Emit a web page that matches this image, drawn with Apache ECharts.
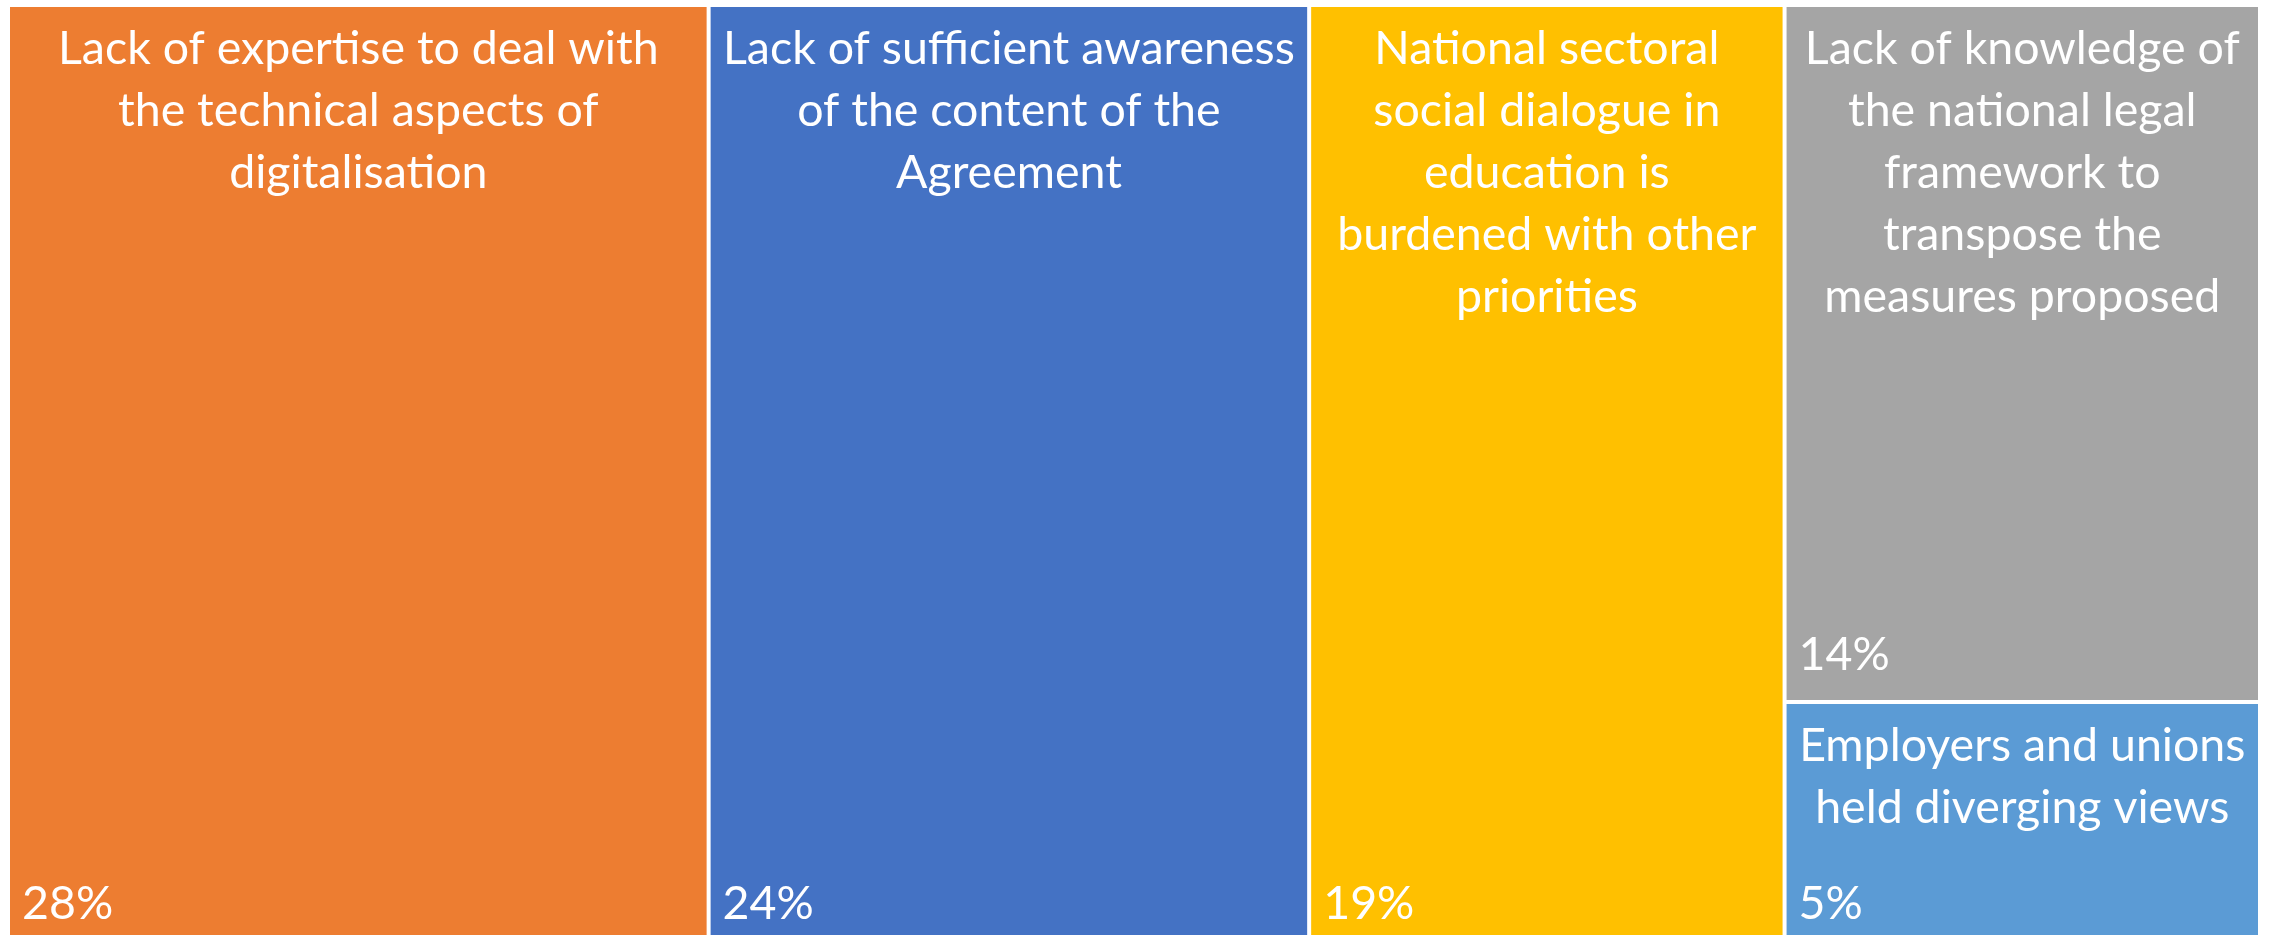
<!DOCTYPE html>
<html>
<head>
<meta charset="utf-8">
<script src="https://cdn.jsdelivr.net/npm/echarts@6/dist/echarts.min.js"></script>
<style>
html,body{margin:0;padding:0;background:#fff;}
#chart{width:2275px;height:935px;}
</style>
</head>
<body>
<div id="chart"></div>
<script>
var categories = [
  "Lack of expertise to deal with\nthe technical aspects of\ndigitalisation",
  "Lack of sufficient awareness\nof the content of the\nAgreement",
  "National sectoral\nsocial dialogue in\neducation is\nburdened with other\npriorities",
  "Lack of knowledge of\nthe national legal\nframework to\ntranspose the\nmeasures proposed",
  "Employers and unions\nheld diverging views"
];
var percents = [28, 24, 19, 14, 5];
var colors = ["#ED7D31", "#4472C4", "#FFC000", "#A5A5A5", "#5B9BD5"];

var FONT = "Lato";
var FS = 46.5;

var nameData = categories.map(function (c, i) {
  return { name: c, value: percents[i], itemStyle: { color: colors[i] } };
});
var pctData = categories.map(function (c, i) {
  return { name: c, value: percents[i], itemStyle: { color: 'rgba(0,0,0,0)' } };
});

var box = { left: 10, top: 7, width: 2248, height: 942 };
function base(data) {
  return Object.assign({
    type: 'treemap',
    data: data,
    roam: false,
    nodeClick: false,
    breadcrumb: { show: false },
    squareRatio: 1,
    sort: 'desc',
    upperLabel: { show: false },
    itemStyle: { gapWidth: 4, borderWidth: 0, borderColor: '#fff' },
    emphasis: { disabled: true },
    animation: false
  }, box);
}

var s1 = base(nameData);
s1.label = {
  show: true,
  position: 'insideTop',
  align: 'center',
  verticalAlign: 'top',
  distance: 6,
  color: '#fff',
  fontFamily: FONT,
  fontSize: FS,
  lineHeight: 62,
  overflow: 'none',
  formatter: function (p) { return p.name; }
};

var s2 = base(pctData);
s2.silent = true;
s2.itemStyle = { gapWidth: 4, borderWidth: 0, color: 'rgba(0,0,0,0)' };
s2.label = {
  show: true,
  position: 'insideBottomLeft',
  distance: 12,
  padding: [0, 0, 8, 0],
  color: '#fff',
  fontFamily: FONT,
  fontSize: FS,
  lineHeight: 50,
  overflow: 'none',
  formatter: function (p) { return p.value + '%'; }
};

var chart = echarts.init(document.getElementById('chart'), null, { renderer: 'canvas' });
chart.setOption({ animation: false, tooltip: { show: false }, series: [s1, s2] });
</script>
</body>
</html>
